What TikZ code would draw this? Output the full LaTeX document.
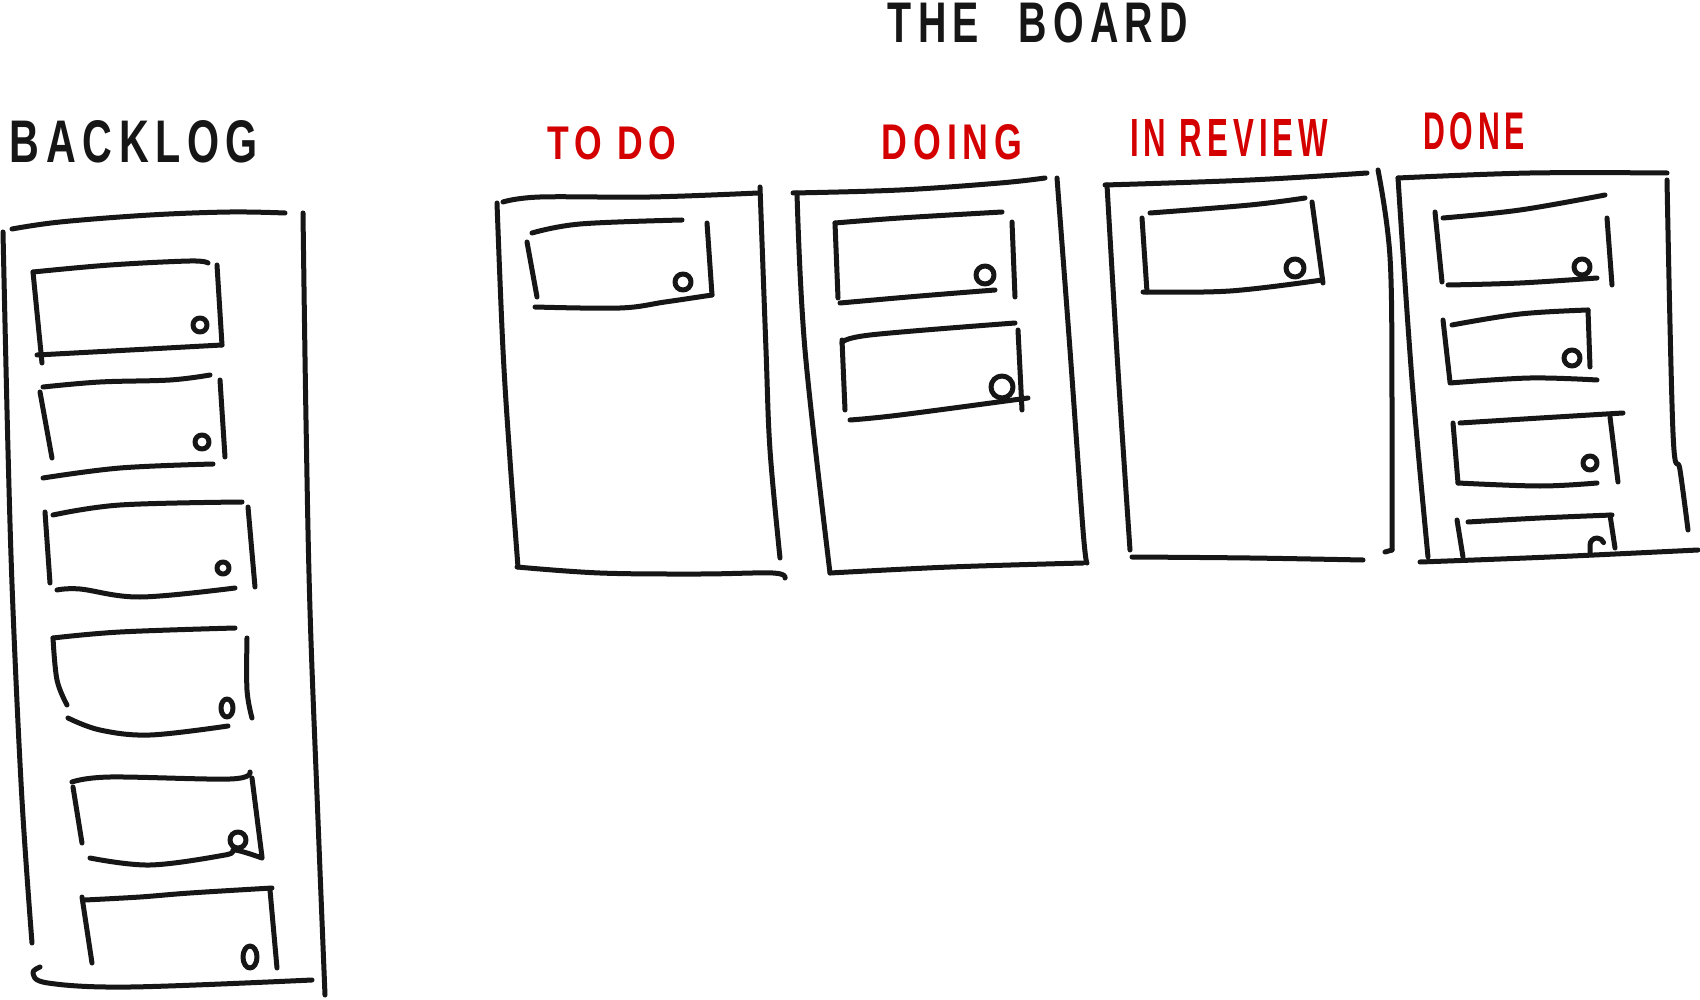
\documentclass[tikz,border=0pt]{standalone}
\usepackage{fontspec}
\usepackage{graphicx}
\setmainfont{Liberation Sans}
\newfontfamily\handfont[LetterSpace=16]{Liberation Sans}
\definecolor{inkred}{RGB}{212,0,0}
\definecolor{inkblack}{RGB}{22,22,22}
\tikzset{
  ink/.style={draw=inkblack, line width=5pt, line cap=round, line join=round},
  headtext/.style={inner sep=0pt, text=inkblack, font=\handfont\bfseries},
  redtext/.style={inner sep=0pt, text=inkred, font=\handfont\bfseries},
}
\newcommand\curlmark[3]{\draw[ink] (#1,#2) circle[radius=#3pt];}
\newcommand\stroke[1]{\draw[ink] plot[smooth, tension=0.6] coordinates {#1};}
\begin{document}
\begin{tikzpicture}[x=1pt,y=-1pt]
\fill[white] (0,0) rectangle (1700,1000);
\useasboundingbox (0,0) rectangle (1700,1000);

% titles
\node[headtext] (title) at (1038,23) {\resizebox{300pt}{40pt}{THE\hspace{1em}BOARD}};
\node[headtext] (backlog) at (134,142) {\resizebox{248pt}{42pt}{BACKLOG}};
\node[redtext] (todo) at (612,143) {\resizebox{129pt}{33pt}{TO DO}};
\node[redtext] (doing) at (952,142) {\resizebox{140pt}{35pt}{DOING}};
\node[redtext] (review) at (1229,138) {\resizebox{198pt}{37pt}{IN REVIEW}};
\node[redtext] (done) at (1474,131) {\resizebox{102pt}{37pt}{DONE}};

% ---------------- BACKLOG column
\stroke{(12,229) (60,222) (150,215) (230,212) (285,213)}
\stroke{(3,232) (8,450) (13,610) (22,800) (32,943)}
\stroke{(303,213) (306,420) (310,610) (318,820) (325,995)}
\stroke{(40,967) (33,973) (48,983) (130,987) (312,980)}
% card 1
\stroke{(33,272) (110,265) (190,261) (208,263)}
\stroke{(33,272) (42,363)}
\stroke{(217,265) (222,345)}
\stroke{(37,355) (130,350) (222,345)}
\curlmark{200}{325}{7}
% card 2
\stroke{(43,387) (100,382) (170,380) (210,375)}
\stroke{(40,392) (52,458)}
\stroke{(220,380) (225,457)}
\stroke{(43,478) (120,468) (213,464)}
\curlmark{202}{442}{7}
% card 3
\stroke{(53,515) (120,505) (242,502)}
\stroke{(45,512) (50,583)}
\stroke{(248,507) (255,587)}
\stroke{(57,590) (80,589) (140,597) (235,588)}
\curlmark{223}{568}{6}
% card 4
\stroke{(53,638) (120,632) (235,628)}
\stroke{(53,638) (57,680) (67,705)}
\stroke{(247,638) (247,690) (252,718)}
\stroke{(68,718) (100,730) (150,735) (228,726)}
\draw[ink] (227,708) ellipse[x radius=6pt, y radius=9pt];
% card 5
\stroke{(72,782) (110,777) (230,779) (250,772)}
\stroke{(73,787) (82,843)}
\stroke{(252,778) (262,857)}
\stroke{(90,858) (150,865) (225,855) (235,850) (262,858)}
\curlmark{238}{840}{8}
% card 6
\stroke{(85,900) (140,897) (190,893) (272,888)}
\stroke{(82,897) (92,963)}
\stroke{(270,890) (277,968)}
\draw[ink] (250,957) ellipse[x radius=7pt, y radius=11pt];

% ---------------- TO DO column
\stroke{(503,202) (540,197) (650,197) (758,193)}
\stroke{(497,203) (503,350) (510,460) (518,567)}
\stroke{(760,187) (766,350) (770,450) (780,558)}
\stroke{(517,567) (600,573) (700,574) (773,573) (785,578)}
\stroke{(532,233) (580,224) (682,220)}
\stroke{(527,242) (537,297)}
\stroke{(707,223) (712,295)}
\stroke{(535,307) (620,308) (665,302) (712,295)}
\curlmark{683}{282}{8}

% ---------------- DOING column
\stroke{(793,193) (900,190) (1000,183) (1045,178)}
\stroke{(797,193) (805,350) (830,573)}
\stroke{(1057,178) (1070,350) (1083,530) (1087,563)}
\stroke{(830,573) (950,567) (1083,563)}
\stroke{(835,223) (900,218) (1002,212)}
\stroke{(835,223) (838,298)}
\stroke{(1012,222) (1015,297)}
\stroke{(840,303) (920,296) (995,290)}
\curlmark{985}{275}{9}
\stroke{(842,343) (870,335) (1015,323)}
\stroke{(842,340) (845,410)}
\stroke{(1018,330) (1022,410)}
\stroke{(850,420) (900,415) (1028,398)}
\curlmark{1002}{387}{11}

% ---------------- IN REVIEW column
\stroke{(1105,185) (1250,180) (1367,173)}
\stroke{(1107,185) (1118,370) (1130,550)}
\stroke{(1378,170) (1390,257) (1392,400) (1392,550)}
\draw[ink] (1392,550) -- (1385,552);
\stroke{(1132,557) (1250,558) (1363,560)}
\stroke{(1150,213) (1250,205) (1305,198)}
\stroke{(1142,218) (1147,292)}
\stroke{(1312,202) (1323,283)}
\stroke{(1143,292) (1230,291) (1322,280)}
\curlmark{1295}{268}{9}

% ---------------- DONE column
\stroke{(1398,178) (1530,173) (1667,173)}
\stroke{(1398,178) (1412,380) (1428,557)}
\stroke{(1667,180) (1673,433) (1680,470) (1688,530)}
\stroke{(1420,562) (1550,557) (1698,550)}
\stroke{(1443,218) (1520,210) (1605,195)}
\stroke{(1435,212) (1442,282)}
\stroke{(1607,218) (1612,285)}
\stroke{(1448,285) (1520,283) (1597,278)}
\curlmark{1582}{267}{8}
\stroke{(1452,325) (1520,314) (1588,310)}
\stroke{(1443,320) (1450,382)}
\stroke{(1588,310) (1590,367)}
\stroke{(1450,383) (1530,378) (1597,380)}
\curlmark{1572}{358}{8}
\stroke{(1460,423) (1540,418) (1623,413)}
\stroke{(1453,423) (1458,483)}
\stroke{(1610,417) (1618,482)}
\stroke{(1458,483) (1540,486) (1597,483)}
\curlmark{1590}{463}{7}
\stroke{(1468,522) (1540,518) (1612,515)}
\stroke{(1457,520) (1463,557)}
\stroke{(1610,515) (1615,548)}
\draw[ink] (1590,553) -- (1590,545) arc[start angle=180, end angle=20, radius=7pt];
\end{tikzpicture}
\end{document}
